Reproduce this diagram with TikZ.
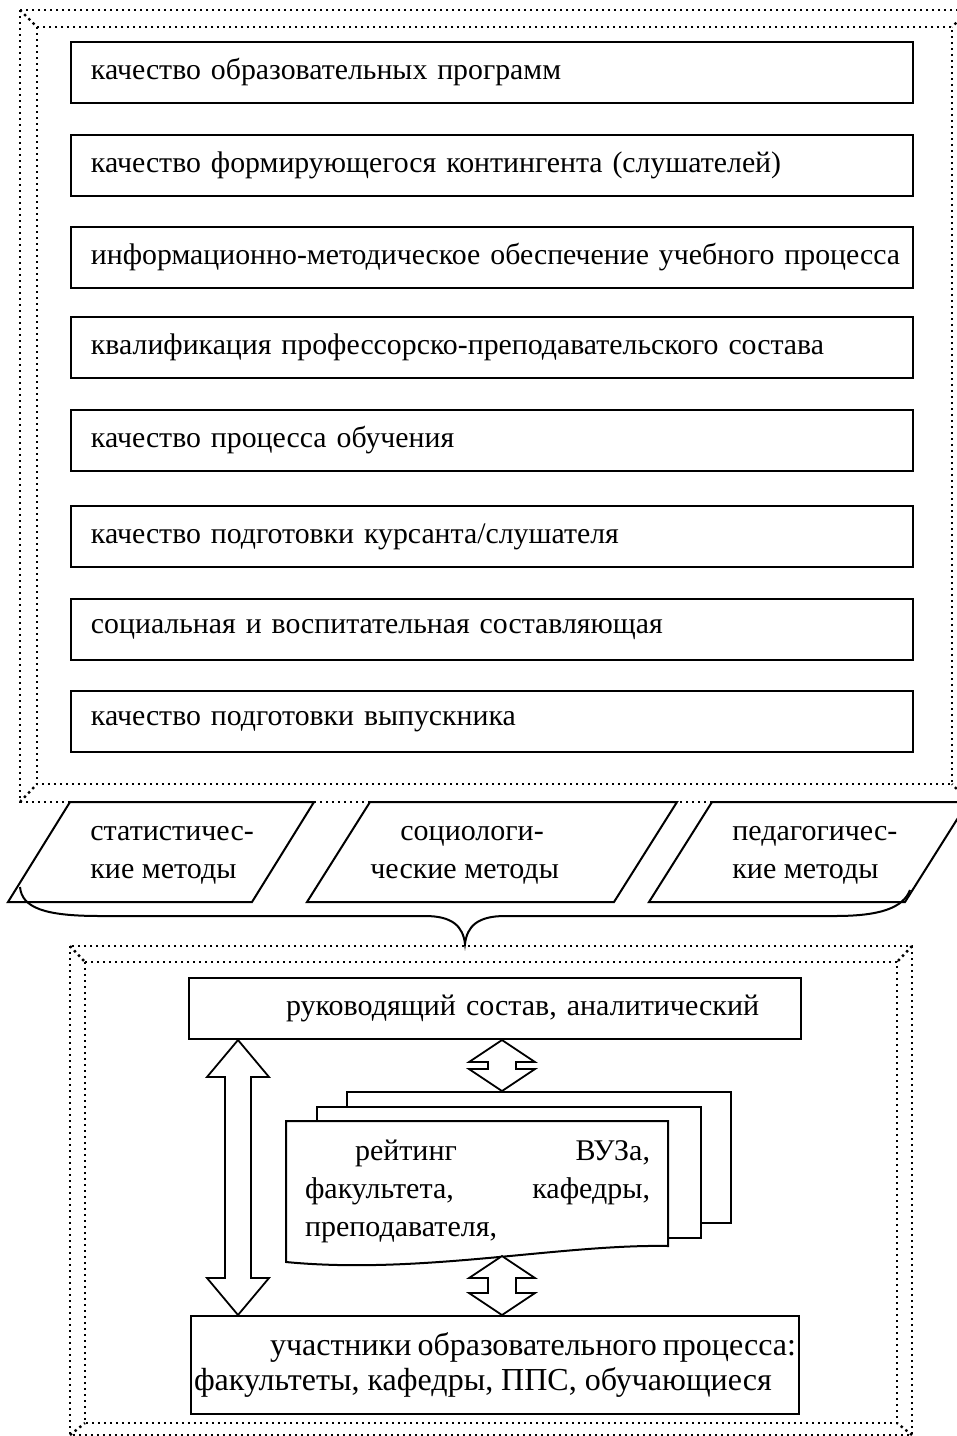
\documentclass[tikz,border=0pt]{standalone}
\usepackage{fontspec}
\setmainfont{Liberation Serif}
\usetikzlibrary{calc}

\tikzset{
  factor/.style={draw, line width=1pt, anchor=north west, minimum height=30.5pt,
    text width=411pt, inner xsep=5pt, inner ysep=0pt, align=left,
    font=\fontsize{14.9}{19}\selectfont, execute at begin node=\hspace*{5pt}},
  frameline/.style={line width=1.2pt, dash pattern=on 1.2pt off 1.8pt},
  method/.style={line width=1pt},
  methodtext/.style={anchor=west, inner sep=0pt, align=left},
  page/.style={draw, fill=white, line width=1pt},
  blockarrow/.style={draw, line width=0.9pt, fill=white},
}

% block arrow with two heads: tip a, tip b, head half width, head length, shaft half width
\newcommand{\dblarrow}[5]{%
  \draw[blockarrow] (#1) -- ++(#3,#4) -- ++({#5-#3},0) -- ($(#2)+(#5,-#4)$)
    -- ++({#3-#5},0) -- (#2) -- ++(-#3,-#4) -- ++({#3-#5},0)
    -- ($(#1)+(-#5,#4)$) -- ++({#5-#3},0) -- cycle;}

\begin{document}
\begin{tikzpicture}[x=0.5pt, y=-0.5pt, font=\fontsize{15}{19}\selectfont]
\useasboundingbox (0,0) rectangle (957,1436);
\clip (0,0) rectangle (957,1436);

% upper frame
\draw[frameline] (20,10) rectangle (969,802);
\draw[frameline] (37,27) rectangle (952,784);
\draw[frameline] (20,10) -- (37,27) (969,10) -- (952,27) (20,802) -- (37,784) (969,802) -- (952,784);

\node[factor] (q1) at (70,41) {качество образовательных программ};
\node[factor] (q2) at (70,134) {качество формирующегося контингента (слушателей)};
\node[factor] (q3) at (70,226) {информационно-методическое обеспечение учебного процесса};
\node[factor] (q4) at (70,316) {квалификация профессорско-преподавательского состава};
\node[factor] (q5) at (70,409) {качество процесса обучения};
\node[factor] (q6) at (70,505) {качество подготовки курсанта/слушателя};
\node[factor] (q7) at (70,598) {социальная и воспитательная составляющая};
\node[factor] (q8) at (70,690) {качество подготовки выпускника};

% methods
\draw[method] (8,902) -- (70,802) -- (314,802) -- (252,902) -- cycle;
\draw[method] (307,902) -- (370,802) -- (677,802) -- (614,902) -- cycle;
\draw[method] (649,902) -- (712,802) -- (968,802) -- (905,902) -- cycle;
\node[methodtext] (m1) at (90,855) {статистичес-\\кие методы};
\node[methodtext] (m2) at (370,855) {\hspace*{15pt}социологи-\\ческие методы};
\node[methodtext] (m3) at (732,855) {педагогичес-\\кие методы};

% brace
\draw[method] (20,887) .. controls (22,908) and (45,916) .. (100,916) -- (425,916)
  .. controls (452,916) and (463,926) .. (465,944)
  .. controls (467,926) and (478,916) .. (505,916) -- (835,916)
  .. controls (880,916) and (903,908) .. (910,890);

% lower frame
\draw[frameline] (70,946) rectangle (912,1435);
\draw[frameline] (85,962) rectangle (897,1423);
\draw[frameline] (70,946) -- (85,962) (912,946) -- (897,962) (70,1435) -- (85,1423) (912,1435) -- (897,1423);

\node[draw, line width=1pt, anchor=north west, minimum height=30.5pt, text width=302pt,
  inner xsep=2pt, inner ysep=0pt, align=left] (lead) at (188,977)
  {\hspace*{46.5pt}руководящий состав, аналитический};
\node[draw, line width=1pt, anchor=north west, minimum height=49pt, text width=301pt,
  inner xsep=1.5pt, inner ysep=0pt, align=justify, font=\fontsize{16}{17.5}\selectfont] (part) at (190,1315)
  {\hspace*{38pt}участники образовательного процесса:\linebreak факультеты, кафедры, ППС, обучающиеся};

% rating documents
\node[page, anchor=north west, minimum width=192pt, minimum height=65.5pt] (pgback) at (346,1091) {};
\node[page, anchor=north west, minimum width=192pt, minimum height=65.5pt] (pgmid) at (316,1106) {};
\draw[page] (286,1121) -- (668,1121) -- (668,1246) .. controls (560,1244) and (420,1275) .. (286,1262) -- cycle;
\node[text width=172.5pt, inner sep=0pt, align=justify] (rating) at (477.5,1191)
  {\hspace*{25pt}рейтинг ВУЗа,\linebreak факультета, кафедры,\linebreak преподавателя,};

% arrows
\coordinate (la) at ($(lead.south west)+(50,0)$);
\coordinate (lb) at ($(part.north west)+(48,0)$);
\coordinate (ua) at ($(lead.south west)+(314,0)$);
\coordinate (ub) at ($(pgback.north west)+(156,0)$);
\coordinate (wa) at (502,1256);
\coordinate (wb) at ($(part.north west)+(312,0)$);
\dblarrow{la}{lb}{31}{37}{13}
\dblarrow{ua}{ub}{33}{22}{14}
\dblarrow{wa}{wb}{33}{22}{14}
\end{tikzpicture}
\end{document}
